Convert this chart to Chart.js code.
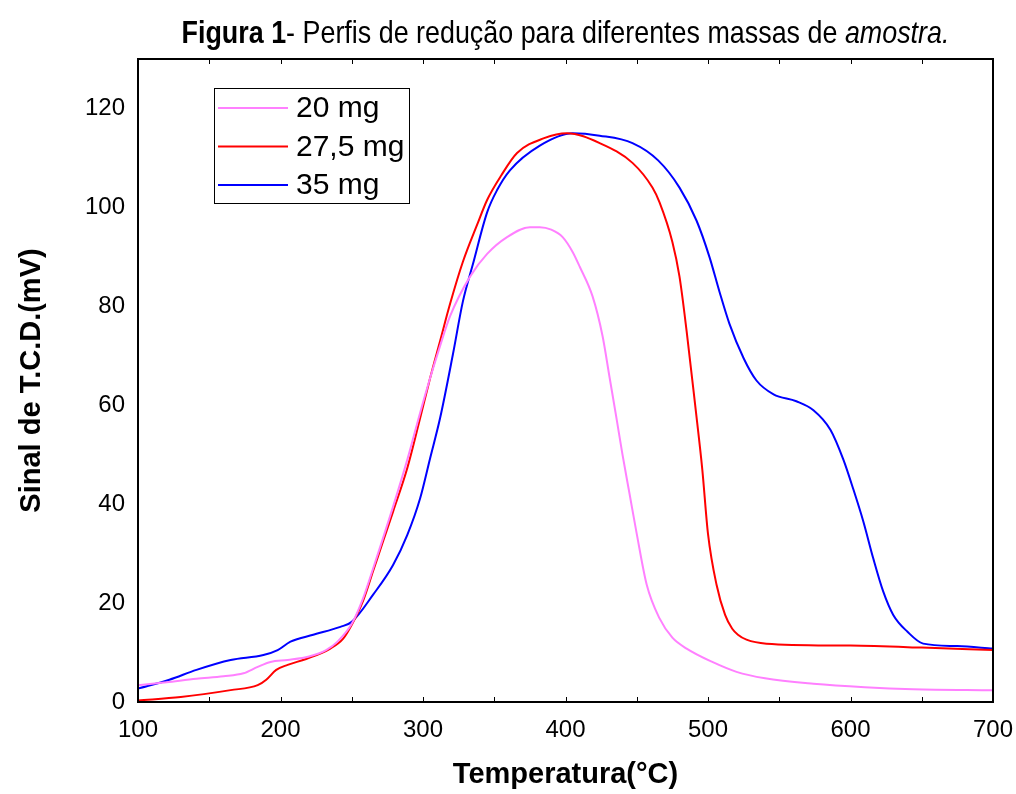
<!DOCTYPE html>
<html>
<head>
<meta charset="utf-8">
<script src="https://cdn.jsdelivr.net/npm/chart.js@4"></script>
<style>
  html, body { margin: 0; padding: 0; background: #fff; }
  #wrap { width: 1016px; height: 794px; }
</style>
</head>
<body>
<div id="wrap"><canvas id="chart" width="1016" height="794"></canvas></div>
<script>
const titleBold = 'Figura 1';
const titleText = '- Perfis de redução para diferentes massas de ';
const titleItalic = 'amostra.';
const xTitle = 'Temperatura(°C)';
const yTitle = 'Sinal de T.C.D.(mV)';

// 20 mg
const temp20 = [100, 120, 141, 160, 174, 184, 193, 205, 220, 232, 240, 250, 258, 265, 279, 289, 298, 305, 312, 319, 333, 345, 359, 375, 382, 390, 398, 405, 410, 419, 426, 431, 436, 440, 445, 450, 457, 466, 475, 485, 503, 520, 540, 574, 610, 644, 700];
const sig20 = [3.4, 4.0, 4.7, 5.2, 5.8, 7.1, 8.1, 8.5, 9.2, 10.5, 12.2, 15.8, 21, 27, 39.5, 49, 58.5, 65.5, 72, 78, 86, 90.6, 94, 96, 96, 95.5, 94, 91, 88, 82, 74, 65.5, 57, 50, 42, 34, 23.7, 16.9, 13, 10.8, 8.1, 6.1, 4.8, 3.7, 3.0, 2.6, 2.4];

// 27,5 mg
const temp27 = [100, 130, 165, 184, 190, 197, 205, 218, 235, 244, 250, 258, 265, 272, 279, 289, 298, 305, 312, 319, 328, 338, 345, 355, 366, 385, 401, 424, 447, 461, 466, 475, 480, 485, 491, 496, 500, 506, 512, 517, 521, 527, 541, 600, 650, 700];
const sig27 = [0.3, 1.0, 2.4, 3.4, 4.5, 6.5, 7.5, 8.7, 10.8, 12.8, 15.6, 20.5, 26.5, 32.5, 38.5, 47.3, 57.4, 65.5, 73, 80.5, 89, 96.5, 101.5, 106.5, 111, 114, 115, 113, 109, 104, 101, 93, 86, 75, 60, 47, 34, 23.7, 17.6, 14.8, 13.6, 12.6, 11.8, 11.4, 11, 10.5];

// 35 mg
const temp35 = [100, 122, 141, 165, 188, 198, 207, 223, 242, 250, 265, 279, 289, 298, 305, 312, 321, 328, 335, 345, 352, 361, 382, 405, 424, 447, 465, 480, 492, 501, 508, 515, 525, 534, 546, 562, 574, 586, 595, 602, 609, 616, 623, 630, 640, 651, 675, 700];
const sig35 = [2.7, 4.5, 6.5, 8.5, 9.5, 10.5, 12.2, 13.6, 15.2, 16.2, 21.7, 27.7, 33.8, 41.2, 49.3, 57.4, 70.3, 81, 88.5, 99, 103.5, 107.5, 112.5, 115, 114.5, 113, 109.5, 104, 97.3, 90, 83, 76.5, 69.5, 65, 62.2, 60.8, 59, 55, 49, 43, 36.5, 29, 22.3, 17.6, 14.2, 11.8, 11.3, 10.8];

const seriesLabels = ['20 mg', '27,5 mg', '35 mg'];
const seriesColors = ['rgb(255, 128, 255)', 'rgb(255, 0, 0)', 'rgb(0, 0, 255)'];

function toPoints(xs, ys) {
    return xs.map(function (x, i) { return { x: x, y: ys[i] }; });
}

const datasets = [
    toPoints(temp20, sig20),
    toPoints(temp27, sig27),
    toPoints(temp35, sig35),
].map(function (pts, i) {
    return {
        label: seriesLabels[i],
        data: pts,
        borderColor: seriesColors[i],
        backgroundColor: seriesColors[i],
        borderWidth: 2,
        pointRadius: 0,
        cubicInterpolationMode: 'monotone',
    };
});

// frame, inward ticks, title and the boxed legend
const decorations = {
    id: 'decorations',
    afterDraw: function (chart) {
        const ctx = chart.ctx;
        const a = chart.chartArea;
        const xs = chart.scales.x;
        ctx.save();
        ctx.strokeStyle = '#000';
        ctx.lineWidth = 2;
        ctx.strokeRect(a.left, a.top, a.right - a.left, a.bottom - a.top);

        ctx.lineWidth = 1;
        ctx.beginPath();
        for (let v = xs.min + 50; v < xs.max; v += 50) {
            const px = Math.round(xs.getPixelForValue(v)) + 0.5;
            ctx.moveTo(px, a.bottom); ctx.lineTo(px, a.bottom - 5);
            ctx.moveTo(px, a.top); ctx.lineTo(px, a.top + 5);
        }
        ctx.stroke();

        // title (condensed look: narrow horizontal scale)
        const fam = "'Liberation Sans', Arial, sans-serif";
        const squeeze = 0.84;
        const parts = [
            { t: titleBold, f: 'bold 32px ' + fam },
            { t: titleText, f: '32px ' + fam },
            { t: titleItalic, f: 'italic 32px ' + fam },
        ];
        let total = 0;
        parts.forEach(function (p) { ctx.font = p.f; p.w = ctx.measureText(p.t).width; total += p.w; });
        ctx.save();
        ctx.translate((a.left + a.right) / 2 - total * squeeze / 2, a.top - 25);
        ctx.scale(squeeze, 1);
        let tx = 0;
        ctx.fillStyle = '#000';
        ctx.textBaseline = 'middle';
        ctx.textAlign = 'left';
        parts.forEach(function (p) { ctx.font = p.f; ctx.fillText(p.t, tx, 0); tx += p.w; });
        ctx.restore();

        // legend box
        const bx = a.left + 76, by = a.top + 29, bw = 195, bh = 115;
        ctx.fillStyle = '#fff';
        ctx.fillRect(bx, by, bw, bh);
        ctx.lineWidth = 1;
        ctx.strokeStyle = '#000';
        ctx.strokeRect(bx + 0.5, by + 0.5, bw, bh);
        ctx.font = "30px 'Liberation Sans', Arial, sans-serif";
        ctx.textBaseline = 'middle';
        ctx.textAlign = 'left';
        chart.data.datasets.forEach(function (ds, i) {
            const ry = by + 20 + i * 38.5;
            ctx.strokeStyle = ds.borderColor;
            ctx.lineWidth = 2;
            ctx.beginPath();
            ctx.moveTo(bx + 4, ry); ctx.lineTo(bx + 74, ry);
            ctx.stroke();
            ctx.fillStyle = '#000';
            ctx.fillText(ds.label, bx + 82, ry + 1);
        });
        ctx.restore();
    }
};

const tickFont = { family: "'Liberation Sans', Arial, sans-serif", size: 24 };
const axisTitleFont = { family: "'Liberation Sans', Arial, sans-serif", size: 29, weight: 'bold' };

var ctx = document.getElementById('chart');
var chart = new Chart(ctx, {
    type: 'line',
    data: { datasets: datasets },
    options: {
        responsive: false,
        animation: false,
        layout: { padding: { top: 59, right: 23, left: 0, bottom: 0 } },
        plugins: {
            legend: { display: false },
            title: { display: false },
            tooltip: { enabled: false },
        },
        scales: {
            x: {
                type: 'linear',
                min: 100,
                max: 700,
                ticks: { stepSize: 100, color: '#000', font: tickFont, padding: 14, maxRotation: 0 },
                grid: { display: false, drawTicks: false },
                border: { display: false },
                title: { display: true, text: xTitle, color: '#000', font: axisTitleFont, padding: { top: 0, bottom: 2 } },
                afterFit: function (s) { s.height = 92; s.paddingLeft = 0; s.paddingRight = 0; },
            },
            y: {
                min: 0,
                max: 130,
                ticks: { stepSize: 20, color: '#000', font: tickFont, padding: 13 },
                afterBuildTicks: function (s) { s.ticks = s.ticks.filter(function (t) { return t.value % 20 === 0; }); },
                grid: { display: false, drawTicks: false },
                border: { display: false },
                title: { display: true, text: yTitle, color: '#000', font: axisTitleFont, padding: { top: 15, bottom: 0 } },
                afterFit: function (s) { s.width = 138; s.paddingTop = 0; s.paddingBottom = 0; },
            },
        },
    },
    plugins: [decorations],
});
</script>
</body>
</html>
